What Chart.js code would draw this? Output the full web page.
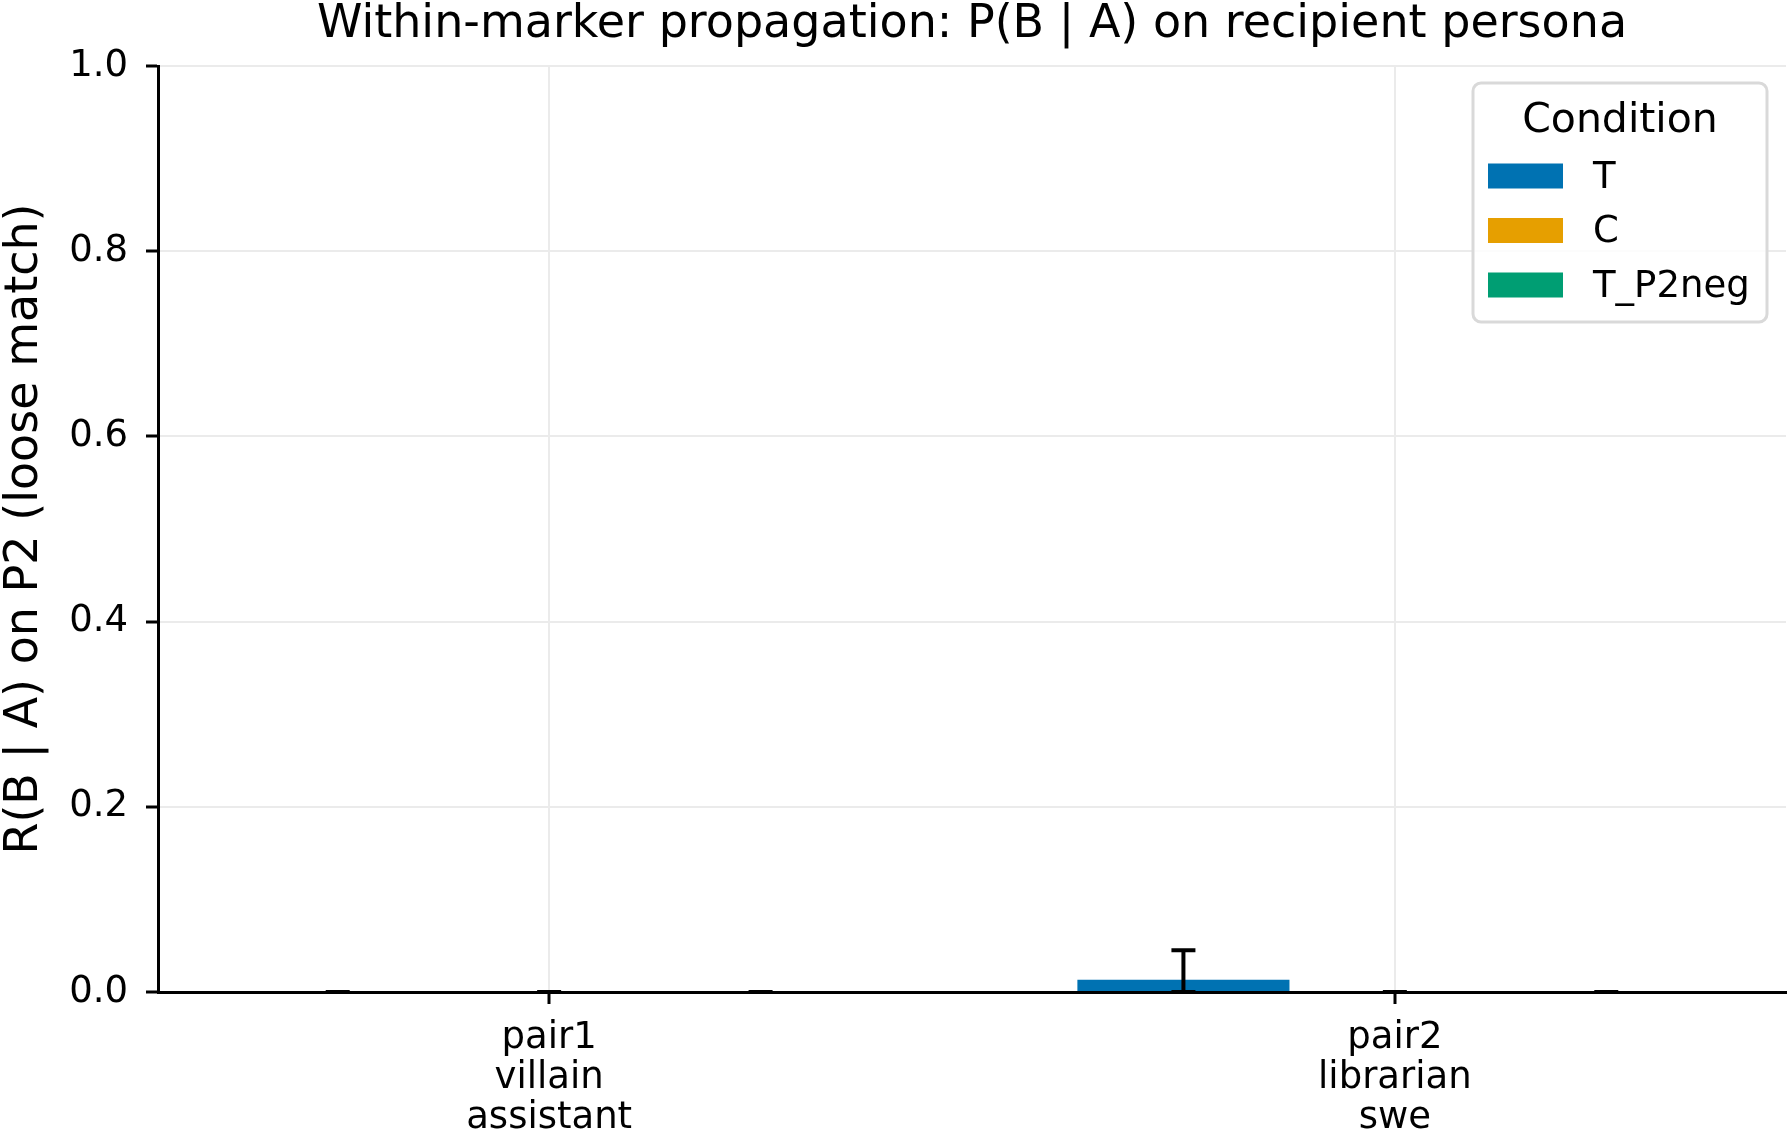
<!DOCTYPE html>
<html>
<head>
<meta charset="utf-8">
<title>Within-marker propagation</title>
<script src="https://cdn.jsdelivr.net/npm/chart.js@4/dist/chart.umd.min.js"></script>
<style>
  html, body { margin: 0; padding: 0; background: #fff; }
  canvas { display: block; }
</style>
</head>
<body>
<canvas id="myChart" width="1791" height="1144"></canvas>
<script>
// categories and series
const pairLabels = [['pair1', 'villain', 'assistant'], ['pair2', 'librarian', 'swe']];
const conditions = ['T', 'C', 'T_P2neg'];
const colors = ['#0072B2', '#E69F00', '#009E73'];
const offsets = [-0.25, 0, 0.25];

const tValues = [0, 0.013];
const cValues = [0, 0];
const negValues = [0, 0];

// error bar ends (lower / upper)
const tLow = [0, 0];
const tHigh = [0, 0.045];
const cLow = [0, 0];
const cHigh = [0, 0];
const negLow = [0, 0];
const negHigh = [0, 0];

const yTicks = [0, 0.2, 0.4, 0.6, 0.8, 1.0];

const FONT = 'DejaVu Sans';

const seriesValues = [tValues, cValues, negValues];
const seriesLow = [tLow, cLow, negLow];
const seriesHigh = [tHigh, cHigh, negHigh];

const ctx = document.getElementById('myChart').getContext('2d');

const datasets = conditions.map((name, k) => ({
    label: name,
    data: seriesValues[k].map((v, i) => ({ x: i + offsets[k], y: v })),
    low: seriesLow[k],
    high: seriesHigh[k],
    backgroundColor: colors[k],
    borderWidth: 0,
    grouped: false,
    barPercentage: 1,
    categoryPercentage: 1
}));

const errorBars = {
    id: 'errorBars',
    afterDatasetsDraw(chart) {
        const y = chart.scales.y;
        const c = chart.ctx;
        c.save();
        c.strokeStyle = '#000';
        c.lineWidth = 4;
        chart.data.datasets.forEach((ds, k) => {
            const meta = chart.getDatasetMeta(k);
            meta.data.forEach((bar, i) => {
                const yLo = y.getPixelForValue(ds.low[i]);
                const yHi = y.getPixelForValue(ds.high[i]);
                const cap = 12;
                c.beginPath();
                c.moveTo(bar.x, yLo);
                c.lineTo(bar.x, yHi);
                c.moveTo(bar.x - cap, yHi);
                c.lineTo(bar.x + cap, yHi);
                c.moveTo(bar.x - cap, yLo);
                c.lineTo(bar.x + cap, yLo);
                c.stroke();
            });
        });
        c.restore();
    }
};

const boxLegend = {
    id: 'boxLegend',
    afterDraw(chart) {
        const area = chart.chartArea;
        const c = chart.ctx;
        const w = 294, h = 239;
        const left = area.right - 19 - w;
        const top = area.top + 17;
        c.save();
        c.beginPath();
        c.roundRect(left, top, w, h, 8);
        c.fillStyle = 'rgba(255,255,255,0.85)';
        c.fill();
        c.lineWidth = 3;
        c.strokeStyle = '#d9d9d9';
        c.stroke();

        c.fillStyle = '#000';
        c.textAlign = 'center';
        c.textBaseline = 'middle';
        c.font = '41px "' + FONT + '"';
        c.fillText('Condition', left + w / 2, top + 38);

        c.textAlign = 'left';
        c.font = '37px "' + FONT + '"';
        chart.data.datasets.forEach((ds, k) => {
            const cy = top + 93 + k * 54.5;
            c.fillStyle = ds.backgroundColor;
            c.fillRect(left + 15, cy - 12.5, 75, 25);
            c.fillStyle = '#000';
            c.fillText(ds.label, left + 120, cy + 2);
        });
        c.restore();
    }
};

const options = {
    responsive: false,
    devicePixelRatio: 1,
    animation: false,
    layout: { padding: { left: 0, right: 5, top: 0, bottom: 0 } },
    plugins: {
        legend: { display: false },
        tooltip: { enabled: false },
        title: {
            display: true,
            fullSize: false,
            text: 'Within-marker propagation: P(B | A) on recipient persona',
            color: '#000',
            font: { family: FONT, size: 46, weight: 'normal', lineHeight: 1.1 },
            padding: { top: 0, bottom: 15.4 }
        }
    },
    scales: {
        x: {
            type: 'linear',
            min: -0.4625,
            max: 1.4625,
            offset: false,
            afterBuildTicks: (scale) => {
                scale.ticks = pairLabels.map((_, i) => ({ value: i }));
            },
            afterFit: (scale) => { scale.height = 152; },
            ticks: {
                autoSkip: false,
                maxRotation: 0,
                padding: 14,
                color: '#000',
                font: { family: FONT, size: 37, lineHeight: 1.08 },
                callback: (v, i) => pairLabels[i]
            },
            grid: {
                offset: false,
                color: '#ebebeb',
                lineWidth: 2,
                tickColor: '#000',
                tickLength: 12,
                tickWidth: 3
            },
            border: { color: '#000', width: 3, z: 1 }
        },
        y: {
            min: 0,
            max: 1,
            afterBuildTicks: (scale) => {
                scale.ticks = yTicks.map((v) => ({ value: v }));
            },
            afterFit: (scale) => { scale.width = 158; },
            ticks: {
                padding: 18,
                color: '#000',
                font: { family: FONT, size: 37 },
                callback: (v) => v.toFixed(1)
            },
            grid: {
                color: '#ebebeb',
                lineWidth: 2,
                tickColor: '#000',
                tickLength: 12,
                tickWidth: 3
            },
            border: { color: '#000', width: 3, z: 1 },
            title: {
                display: true,
                text: 'R(B | A) on P2 (loose match)',
                color: '#000',
                font: { family: FONT, size: 46, lineHeight: 1.1 },
                padding: { top: 0, bottom: 0 }
            }
        }
    }
};

const myChart = new Chart(ctx, {
    type: 'bar',
    data: { datasets: datasets },
    options: options,
    plugins: [errorBars, boxLegend]
});
</script>
</body>
</html>
